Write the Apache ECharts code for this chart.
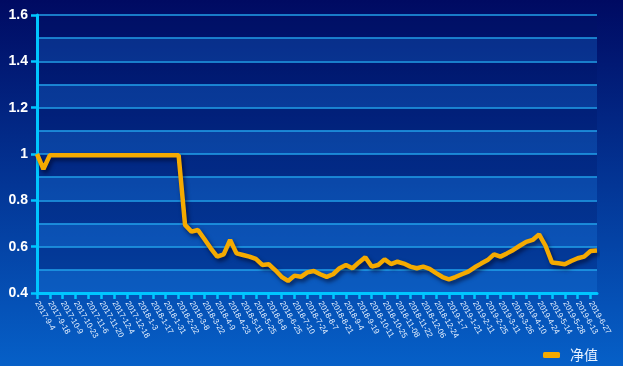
<!DOCTYPE html>
<html>
<head>
<meta charset="utf-8">
<script src="https://cdn.jsdelivr.net/npm/echarts@6/dist/echarts.min.js"></script>
<style>html,body{margin:0;padding:0;width:623px;height:366px;overflow:hidden;}#c{width:623px;height:366px;}</style>
</head>
<body>
<div id="c"></div>
<script>
var categories = [
 '2017-9-4','2017-9-11','2017-9-18','2017-9-25','2017-10-9','2017-10-16','2017-10-23','2017-10-30',
 '2017-11-6','2017-11-13','2017-11-20','2017-11-27','2017-12-4','2017-12-11','2017-12-18','2017-12-25',
 '2018-1-3','2018-1-10','2018-1-17','2018-1-24','2018-1-31','2018-2-7','2018-2-22','2018-3-1',
 '2018-3-8','2018-3-15','2018-3-22','2018-3-29','2018-4-9','2018-4-16','2018-4-23','2018-5-2',
 '2018-5-11','2018-5-18','2018-5-25','2018-6-1','2018-6-8','2018-6-15','2018-6-25','2018-7-2',
 '2018-7-10','2018-7-17','2018-7-24','2018-7-31','2018-8-7','2018-8-14','2018-8-21','2018-8-28',
 '2018-9-4','2018-9-11','2018-9-19','2018-9-27','2018-10-11','2018-10-18','2018-10-25','2018-11-01',
 '2018-11-08','2018-11-15','2018-11-22','2018-11-29','2018-12-06','2018-12-13','2018-12-24','2018-12-28',
 '2019-1-7','2019-1-14','2019-1-21','2019-1-28','2019-2-11','2019-2-18','2019-2-25','2019-3-4',
 '2019-3-11','2019-3-18','2019-3-26','2019-4-2','2019-4-10','2019-4-17','2019-4-24','2019-5-6',
 '2019-5-14','2019-5-21','2019-5-28','2019-6-4','2019-6-13','2019-6-20','2019-6-27','2019-7-4'
];
var netValue = [
 1.0,0.935,0.995,0.995,0.995,0.995,0.995,0.995,
 0.995,0.995,0.995,0.995,0.995,0.995,0.995,0.995,
 0.995,0.995,0.995,0.995,0.995,0.995,0.995,0.694,
 0.665,0.672,0.633,0.593,0.557,0.567,0.629,0.571,
 0.564,0.557,0.547,0.521,0.524,0.499,0.470,0.452,
 0.475,0.470,0.489,0.495,0.481,0.470,0.481,0.507,
 0.521,0.507,0.532,0.554,0.514,0.521,0.545,0.525,
 0.535,0.527,0.514,0.507,0.514,0.504,0.486,0.469,
 0.459,0.469,0.481,0.492,0.511,0.527,0.542,0.567,
 0.557,0.571,0.586,0.604,0.621,0.629,0.653,0.604,
 0.532,0.528,0.524,0.538,0.550,0.557,0.581,0.583
];
var seriesName = '净值';
var yMin = 0.4, yMax = 1.6;

var chart = echarts.init(document.getElementById('c'));
var cyan = '#00c6ff';
chart.setOption({
  backgroundColor: new echarts.graphic.LinearGradient(0,0,0,1,[
    {offset:0,color:'#000a62'},{offset:1,color:'#0660c8'}]),
  animation: false,
  textStyle: {fontFamily: 'Liberation Sans, Arial, sans-serif'},
  grid: {left: 37, right: 26, top: 15, bottom: 73, containLabel: false},
  legend: {
    right: 20, top: 343,
    icon: 'roundRect', itemWidth: 17, itemHeight: 6,
    textStyle: {color: '#e8f2ff', fontSize: 14, padding: [0,0,0,5],
      fontFamily: 'Noto Sans CJK SC, sans-serif'},
    data: [seriesName]
  },
  xAxis: {
    type: 'category', data: categories, boundaryGap: false,
    axisLine: {lineStyle: {color: cyan, width: 3}},
    axisTick: {show: true, interval: 1, length: 6, lineStyle: {color: cyan, width: 2.5}},
    axisLabel: {interval: 1, rotate: -60, color: '#e8f2ff', fontSize: 8, margin: 9},
    splitLine: {show: false}
  },
  yAxis: [{
    type: 'value', min: yMin, max: yMax, interval: 0.2, position: 'left',
    axisLine: {show: true, lineStyle: {color: cyan, width: 3}},
    axisTick: {show: true, length: 6, lineStyle: {color: cyan, width: 2.5}},
    axisLabel: {color: '#ffffff', fontSize: 14, fontWeight: 'bold', margin: 9},
    splitLine: {show: false}
  }, {
    type: 'value', min: yMin, max: yMax, interval: 0.1, position: 'right',
    axisLine: {show: false}, axisTick: {show: false}, axisLabel: {show: false},
    splitLine: {show: true, lineStyle: {color: '#22a0ea', width: 1.5}},
    splitArea: {show: true, areaStyle: {color: ['rgba(30,130,230,0.25)','rgba(0,20,100,0.25)']}}
  }],
  series: [{
    name: seriesName, type: 'line', data: netValue, yAxisIndex: 0,
    showSymbol: false, symbol: 'none',
    itemStyle: {color: '#f5aa00', shadowColor: 'rgba(0,0,30,0.6)', shadowBlur: 4, shadowOffsetX: 2, shadowOffsetY: 3},
    lineStyle: {color: '#f5aa00', width: 4.5, shadowColor: 'rgba(0,0,30,0.6)', shadowBlur: 4, shadowOffsetX: 2, shadowOffsetY: 3}
  }]
});
</script>
</body>
</html>
